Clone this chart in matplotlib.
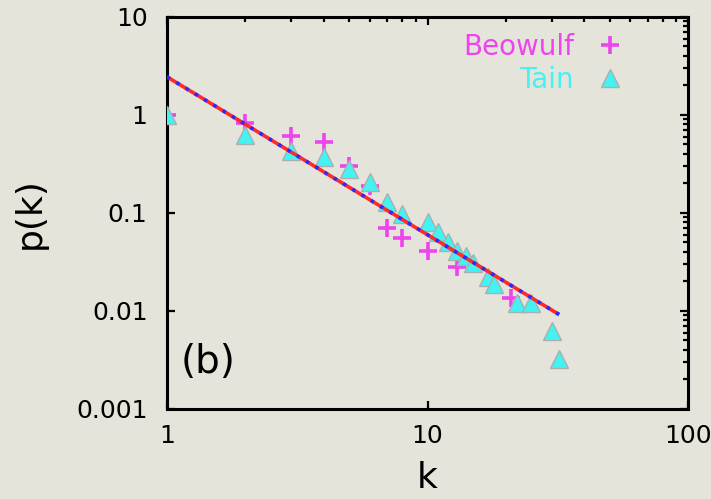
import numpy as np
import matplotlib
matplotlib.use('Agg')
import matplotlib.pyplot as plt
from matplotlib.ticker import LogLocator, NullFormatter, FixedLocator

# values
beowulf_k = [1, 2, 3, 4, 5, 6, 7, 8, 10, 13, 21]
beowulf_p = [1.0, 0.83, 0.61, 0.53, 0.30, 0.19, 0.070, 0.056, 0.041, 0.028, 0.0137]

tain_k = [1, 2, 3, 4, 5, 6, 7, 8, 10, 11, 12, 13, 14, 15, 17, 18, 22, 25, 30, 32]
tain_p = [1.0, 0.62, 0.43, 0.37, 0.28, 0.206, 0.13, 0.097, 0.08, 0.064, 0.05,
          0.041, 0.036, 0.031, 0.022, 0.019, 0.012, 0.012, 0.0062, 0.0032]

# power-law fit, end points
fit_k = [1, 32]
fit_p = [2.45, 0.0092]

xticks = [1, 10, 100]
xtick_labels = ['1', '10', '100']
yticks = [0.001, 0.01, 0.1, 1, 10]
ytick_labels = ['0.001', '0.01', '0.1', '1', '10']

bg = '#e5e4da'
magenta = '#ee44ee'
cyan = '#44f2f2'

fig = plt.figure(figsize=(7.11, 4.99), dpi=100, facecolor=bg)
ax = fig.add_axes([0.2349, 0.1804, 0.7328, 0.7856], facecolor=bg)

ax.plot(beowulf_k, beowulf_p, linestyle='none', marker='+', markersize=13,
        markeredgewidth=2.6, color=magenta, label='Beowulf', zorder=2)
ax.plot(tain_k, tain_p, linestyle='none', marker='^', markersize=13.5,
        markerfacecolor=cyan, markeredgecolor='#a8b0b0', markeredgewidth=1.0,
        color=cyan, label='Tain', zorder=3)
ax.plot(fit_k, fit_p, color='#ff2a2a', lw=2.6, solid_capstyle='butt', zorder=4)
ax.plot(fit_k, fit_p, color='#2a2aff', lw=2.6, dashes=(1, 2), zorder=5)

ax.set_xscale('log')
ax.set_yscale('log')
ax.set_xlim(1, 100)
ax.set_ylim(0.001, 10)

ax.xaxis.set_major_locator(FixedLocator(xticks))
ax.set_xticklabels(xtick_labels)
ax.yaxis.set_major_locator(FixedLocator(yticks))
ax.set_yticklabels(ytick_labels)
ax.xaxis.set_minor_locator(LogLocator(base=10, subs=np.arange(2, 10)))
ax.yaxis.set_minor_locator(LogLocator(base=10, subs=np.arange(2, 10)))
ax.xaxis.set_minor_formatter(NullFormatter())
ax.yaxis.set_minor_formatter(NullFormatter())

ax.tick_params(which='major', direction='in', length=6, width=1.6,
               top=True, right=True, labelsize=18, pad=14, colors='black')
ax.tick_params(axis='x', which='major', pad=11)
ax.tick_params(which='minor', direction='in', length=3.5, width=1.6,
               top=True, right=True, left=False, bottom=False)
for s in ax.spines.values():
    s.set_linewidth(2.2)

ax.set_xlabel('k', fontsize=26, labelpad=9)
ax.set_ylabel('p(k)', fontsize=26, labelpad=21)

ax.text(0.027, 0.12, '(b)', transform=ax.transAxes, fontsize=28,
        ha='left', va='center')

ax.legend(loc='upper right', bbox_to_anchor=(0.909, 0.995), frameon=False,
          markerfirst=False, fontsize=20, handlelength=1.2, handletextpad=0.7,
          borderpad=0, labelspacing=0.18, labelcolor=[magenta, cyan])

fig.savefig('out.png', dpi=100, facecolor=bg)
